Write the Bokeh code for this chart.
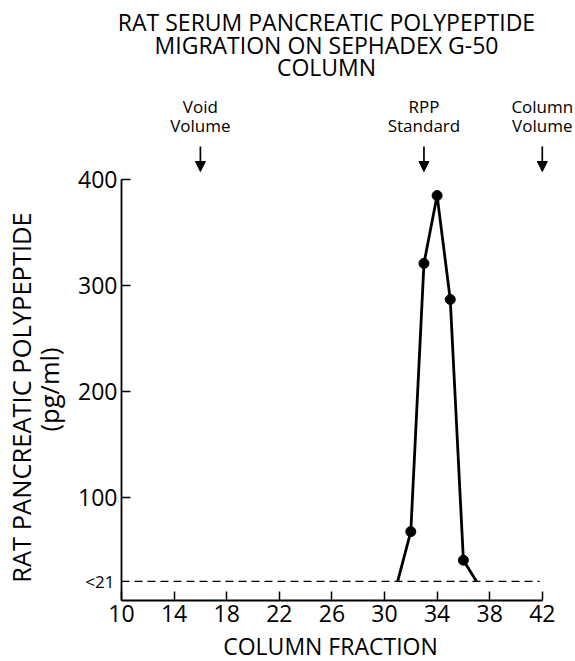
import math
from bokeh.plotting import figure
from bokeh.models import Label, Arrow, NormalHead, Range1d, FixedTicker
from bokeh.embed import file_html
from bokeh.resources import INLINE

# ---- data ----
line_fraction = [31, 32, 33, 34, 35, 36, 37]
line_rpp = [21, 68, 321, 385, 287, 41, 21]
point_fraction = [32, 33, 34, 35, 36]
point_rpp = [68, 321, 385, 287, 41]

detection_limit = 21
limit_fraction = [10, 41.8]

x_ticks = [10, 14, 18, 22, 26, 30, 34, 38, 42]
y_ticks = [100, 200, 300, 400]

marker_fraction = [16, 33, 42]
marker_line1 = ["Void", "RPP", "Column"]
marker_line2 = ["Volume", "Standard", "Volume"]

title_lines = ["RAT SERUM PANCREATIC POLYPEPTIDE",
               "MIGRATION ON SEPHADEX G-50",
               "COLUMN"]

FONT = "Open Sans"
W, H = 575, 661

# screen layout: fraction 10 at px 121, 13.15 px per fraction; value 3 at py 600, 1.06 px per unit
X0_PX, XS = 121.0, 13.15
Y0_PX, YS = 600.0, 1.06


def dx(px):
    return 10 + (px - X0_PX) / XS


def dy(py):
    return 3 + (Y0_PX - py) / YS


p = figure(width=W, height=H, output_backend="svg", toolbar_location=None,
           x_range=Range1d(dx(0), dx(W)), y_range=Range1d(dy(H), dy(0)),
           min_border=0, min_border_left=0, min_border_right=0,
           min_border_top=0, min_border_bottom=0)
p.outline_line_color = None
p.xgrid.visible = False
p.ygrid.visible = False
p.background_fill_color = "white"
p.border_fill_color = "white"

p.xaxis.fixed_location = 3
p.yaxis.fixed_location = 10

for ax, ticks, bnds in ((p.xaxis, x_ticks, (10, 42)), (p.yaxis, y_ticks, (3, 400))):
    ax.ticker = FixedTicker(ticks=ticks)
    ax.bounds = bnds
    ax.major_tick_in = 9
    ax.major_tick_out = 0
    ax.minor_tick_line_color = None
    ax.axis_line_width = 1.8
    ax.major_tick_line_width = 1.5
    ax.axis_line_color = "black"
    ax.major_tick_line_color = "black"
    ax.major_label_text_font = FONT
    ax.major_label_text_font_size = "23px"
    ax.major_label_text_color = "black"
    ax.major_label_standoff = 4

# detection limit dashed line
p.line(limit_fraction, [detection_limit, detection_limit], line_color="black",
       line_width=1.3, line_dash="8 5")

# data
p.line(line_fraction, line_rpp, line_color="black", line_width=2.8)
p.scatter(point_fraction, point_rpp, size=10, marker="circle",
          fill_color="black", line_color="black")


def label(x, y, text, size, angle=0.0, align="center"):
    p.add_layout(Label(x=x, y=y, text=text, angle=angle, text_align=align,
                       text_baseline="middle", text_font=FONT,
                       text_font_size=size, text_color="black"))


# "<21" label
label(dx(114), detection_limit, "<21", "17px", align="right")

# marker arrows and labels
for xv, t1, t2 in zip(marker_fraction, marker_line1, marker_line2):
    p.add_layout(Arrow(x_start=xv, y_start=dy(146), x_end=xv, y_end=dy(171),
                       line_width=1.7, line_color="black",
                       end=NormalHead(size=10, fill_color="black", line_color="black")))
    label(xv, dy(106), t1, "17px")
    label(xv, dy(125), t2, "17px")

# title
for t, py in zip(title_lines, [21, 44, 66]):
    label(dx(326), dy(py), t, "23px")

# axis titles
label(dx(330), dy(645), "COLUMN FRACTION", "23px")
label(dx(20), dy(397), "RAT PANCREATIC POLYPEPTIDE", "25.5px", angle=math.pi / 2)
label(dx(48), dy(389), "(pg/ml)", "25.5px", angle=math.pi / 2)

open("out.html", "w").write(file_html(p, INLINE))
